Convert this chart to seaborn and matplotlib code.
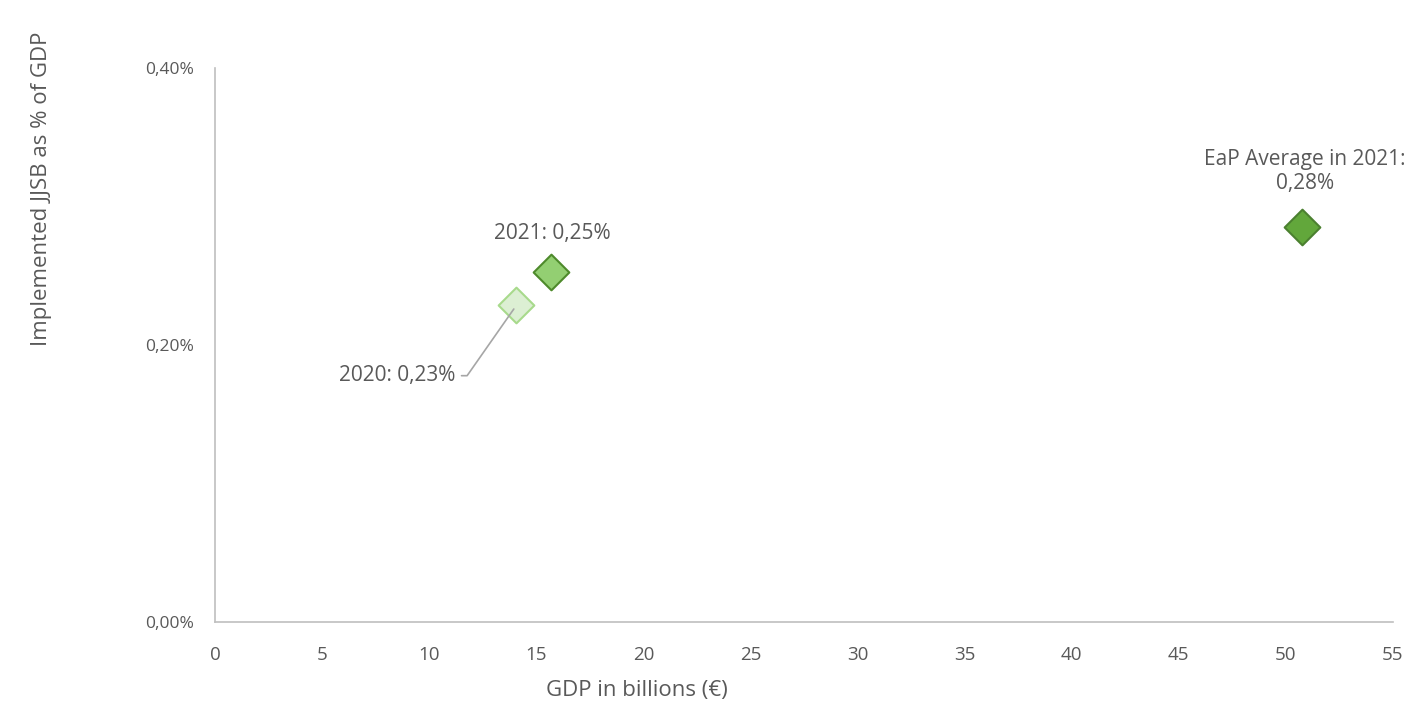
import matplotlib.pyplot as plt
import matplotlib.ticker as mticker
import pandas as pd
import seaborn as sns

# datos (en % del PIB)
labels = ['2020', '2021', 'EaP Average in 2021']
gdp = [14.05, 15.7, 50.75]
jjsb = [0.229, 0.2525, 0.285]
shown = [0.23, 0.25, 0.28]
fills = ['#dcefd3', '#93cf72', '#62a73b']
edges = ['#a8da8c', '#4e8a2b', '#4b8030']

df = pd.DataFrame({'label': labels, 'gdp': gdp, 'jjsb': jjsb})

sns.set_theme(style='white')
plt.rcParams['font.family'] = ['Open Sans', 'DejaVu Sans']
gris = '#595959'

fig = plt.figure(figsize=(14.12, 7.05), dpi=100)
ax = fig.add_axes([0.1523, 0.1177, 0.8342, 0.7858])

for i, row in df.iterrows():
    sns.scatterplot(x=[row['gdp']], y=[row['jjsb']], marker='D', s=330,
                    color=fills[i], edgecolor=edges[i], linewidth=1.5, ax=ax,
                    zorder=3)


def pct(v):
    return f'{v:.2f}%'.replace('.', ',')


ax.set_xlim(0, 55)
ax.set_ylim(0, 0.4)
ax.set_xticks(range(0, 56, 5))
ax.set_yticks([0, 0.2, 0.4])
ax.yaxis.set_major_formatter(mticker.FuncFormatter(lambda v, p: pct(v)))

for s in ['top', 'right']:
    ax.spines[s].set_visible(False)
for s in ['left', 'bottom']:
    ax.spines[s].set_color('#bfbfbf')
    ax.spines[s].set_linewidth(1.2)

ax.tick_params(axis='y', length=7, color='#bfbfbf', width=1.2, labelsize=12.5, labelcolor=gris, pad=8)
ax.tick_params(axis='x', length=0, labelsize=13.5, labelcolor=gris, pad=17)

ax.set_xlabel('GDP in billions (€)', fontsize=16, color=gris, va='center')
ax.xaxis.set_label_coords(0.358, -0.123)
ax.set_ylabel('Implemented JJSB as % of GDP', fontsize=16, color=gris, va='center')
ax.yaxis.set_label_coords(-0.147, 0.7816)

# etiquetas de los puntos
fs = 15
ax.annotate(f'2021: {pct(shown[1])}', xy=(df.gdp[1], df.jjsb[1]), xytext=(1, 28),
            textcoords='offset points', ha='center', va='center', fontsize=fs, color=gris)
ax.annotate(f'EaP Average in 2021:\n{pct(shown[2])}', xy=(df.gdp[2], df.jjsb[2]), xytext=(2, 40),
            textcoords='offset points', ha='center', va='center', fontsize=fs, color=gris,
            linespacing=1.2)
ax.annotate(f'2020: {pct(shown[0])}', xy=(df.gdp[0] - 0.1, df.jjsb[0] - 0.003), xytext=(-42, -48),
            textcoords='offset points', ha='right', va='center', fontsize=fs, color=gris,
            arrowprops=dict(arrowstyle='-', color='#a6a6a6', lw=1.2,
                            connectionstyle='angle,angleA=0,angleB=55,rad=0',
                            shrinkA=2, shrinkB=0))

fig.savefig('out.png', dpi=100)
